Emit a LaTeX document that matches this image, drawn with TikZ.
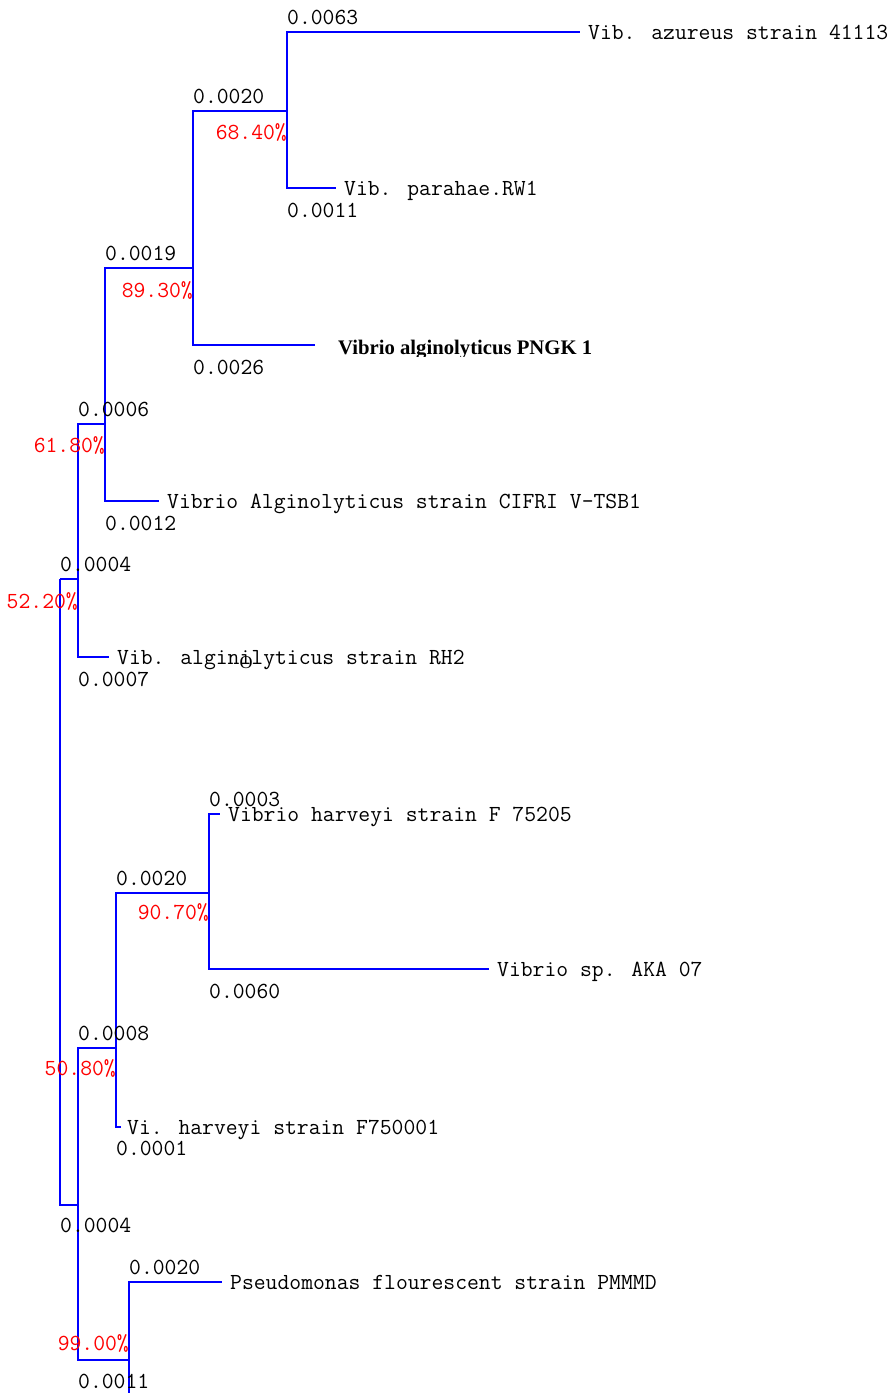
\documentclass[tikz,border=0pt]{standalone}
\usepackage{fontspec}
\setmainfont{Liberation Serif}
\begin{document}
\begin{tikzpicture}[
  x=1pt, y=-1pt,
  branch/.style={blue, line width=2pt},
  txt/.style={inner sep=0pt, font=\ttfamily\fontsize{23}{25}\selectfont},
  leaf/.style={txt, anchor=west, text height=14pt, text depth=0pt},
  blen/.style={txt, anchor=base west},
  boot/.style={txt, anchor=base east, red}
]
\useasboundingbox (0,0) rectangle (892,1393);
% inner nodes of the tree
\coordinate (root) at (60,579);
\coordinate (n1) at (78,579);
\coordinate (n2) at (105,424);
\coordinate (n3) at (193,268);
\coordinate (n4) at (287,111);
\coordinate (n5) at (78,1205);
\coordinate (n6) at (116,1048);
\coordinate (n7) at (209,893);
\coordinate (n8) at (129,1360);
\coordinate (cut) at (129,1393);
% taxa
\node[leaf] (azu) at (588,32) {Vib. azureus strain 41113};
\node[leaf] (para) at (344,188) {Vib. parahae.RW1};
\node[leaf] (cifri) at (167,501) {Vibrio Alginolyticus strain CIFRI V-TSB1};
\node[leaf] (rh2) at (117,657) {Vib. alginilyticus strain RH2};
\node[leaf] (hva) at (228,814) {Vibrio harveyi strain F 75205};
\node[leaf] (aka) at (497,969) {Vibrio sp. AKA 07};
\node[leaf] (hvb) at (127,1127) {Vi. harveyi strain F750001};
\node[leaf] (pseudo) at (230,1282) {Pseudomonas flourescent strain PMMMD};
\begin{scope}
  \clip (330,330) rectangle (610,356);
  \node[anchor=base west, inner sep=0pt, font=\bfseries\fontsize{20.7}{22}\selectfont] (pngk) at (338,354) {Vibrio alginolyticus PNGK 1};
\end{scope}
\node[inner sep=0pt, font=\fontsize{18}{20}\selectfont] (stray) at (246,663) {O};
% branches
\draw[branch] (root) |- (n1);
\draw[branch] (root) |- (n5);
\draw[branch] (n1) |- (n2);
\draw[branch] (n1) |- ([xshift=-8pt]rh2.west);
\draw[branch] (n2) |- (n3);
\draw[branch] (n2) |- ([xshift=-8pt]cifri.west);
\draw[branch] (n3) |- (n4);
\draw[branch] (n3) |- ([xshift=-23pt]pngk.west |- 0,345);
\draw[branch] (n4) |- ([xshift=-8pt]azu.west);
\draw[branch] (n4) |- ([xshift=-8pt]para.west);
\draw[branch] (n5) |- (n6);
\draw[branch] (n5) |- (n8);
\draw[branch] (n6) |- (n7);
\draw[branch] (n6) |- ([xshift=-6pt]hvb.west);
\draw[branch] (n7) |- ([xshift=-8pt]hva.west);
\draw[branch] (n7) |- ([xshift=-8pt]aka.west);
\draw[branch] (n8) |- ([xshift=-8pt]pseudo.west);
\draw[branch] (n8) -- (cut);
% branch lengths
\foreach \x/\y/\t [count=\i] in {287/24/0.0063, 193/103/0.0020, 105/260/0.0019,
    78/416/0.0006, 60/571/0.0004, 209/806/0.0003, 116/885/0.0020, 78/1040/0.0008,
    129/1274/0.0020, 287/217/0.0011, 193/374/0.0026, 105/530/0.0012, 78/686/0.0007,
    60/1232/0.0004, 209/998/0.0060, 116/1155/0.0001, 78/1388/0.0011}
  \node[blen] (len\i) at (\x,\y) {\t};
% bootstrap values
\foreach \x/\y/\t [count=\i] in {287/139/68.40, 193/297/89.30, 105/452/61.80,
    78/608/52.20, 209/919/90.70, 116/1075/50.80, 129/1350/99.00}
  \node[boot] (bs\i) at (\x,\y) {\t\%};
\end{tikzpicture}
\end{document}
